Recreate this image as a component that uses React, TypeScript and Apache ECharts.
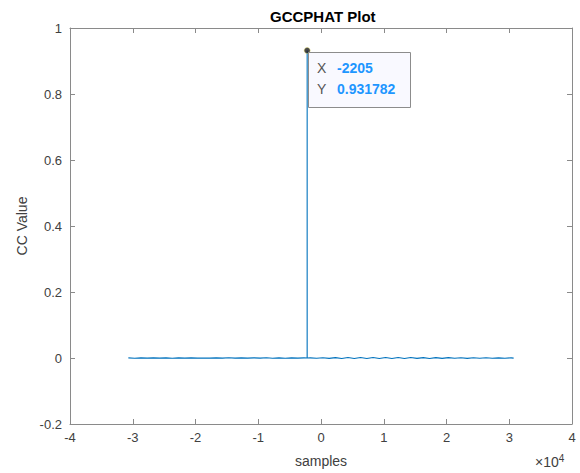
import React, { useEffect, useRef } from "react";
import * as echarts from "echarts";

const title = "GCCPHAT Plot";
const xAxisName = "samples";
const yAxisName = "CC Value";

// lag (samples) and GCC-PHAT value
const lags: number[] = [
  -30700, -29700, -28700, -27700, -26700, -25700, -24700, -23700, -22700, -21700,
  -20700, -19700, -18700, -17700, -16700, -15700, -14700, -13700, -12700, -11700,
  -10700, -9700, -8700, -7700, -6700, -5700, -4700, -3700, -2700,
  -2206, -2205, -2204,
  -1700, -700, 300, 1300, 2300, 3300, 4300, 5300, 6300, 7300, 8300, 9300, 10300,
  11300, 12300, 13300, 14300, 15300, 16300, 17300, 18300, 19300, 20300, 21300,
  22300, 23300, 24300, 25300, 26300, 27300, 28300, 29300, 30300, 30700,
];
const ccValues: number[] = [
  0.0004, -0.0006, 0.0003, -0.0004, 0.0005, -0.0003, 0.0004, -0.0006, 0.0004, -0.0003,
  0.0005, -0.0004, 0.0002, -0.0005, 0.0004, -0.0003, 0.0006, -0.0004, 0.0003, -0.0005,
  0.0005, -0.0003, 0.0007, -0.0006, 0.0003, -0.0007, 0.0005, -0.0004, 0.0004,
  0.0002, 0.931782, -0.0002,
  0.0005, -0.0006, 0.0008, -0.001, 0.0012, -0.0014, 0.0013, -0.0015, 0.0014, -0.0013,
  0.0016, -0.0014, 0.0013, -0.0015, 0.0013, -0.0014, 0.0015, -0.0012, 0.0012, -0.0013,
  0.0011, -0.001, 0.0011, -0.0009, 0.0009, -0.001, 0.0007, -0.0008, 0.0006, -0.0007,
  0.0005, -0.0006, 0.0005, -0.0003,
];

const peakLag = -2205;
const peakValue = 0.931782;

const xMin = -40000;
const xMax = 40000;
const xInterval = 10000;
const yMin = -0.2;
const yMax = 1;
const yInterval = 0.2;

const FONT = "'Liberation Sans', Arial, Helvetica, sans-serif";
const AXIS_COLOR = "#8a8a8a";
const TEXT_COLOR = "#404040";

export default function App() {
  const ref = useRef<HTMLDivElement>(null);

  useEffect(() => {
    if (!ref.current) return;
    const chart = echarts.init(ref.current, null, { renderer: "svg" });

    const tickCommon = {
      show: true,
      inside: true,
      length: 5,
      lineStyle: { color: AXIS_COLOR, width: 1 },
    };
    const lineCommon = {
      show: true,
      onZero: false,
      lineStyle: { color: AXIS_COLOR, width: 1 },
    };

    chart.setOption({
      animation: false,
      backgroundColor: "#ffffff",
      textStyle: { fontFamily: FONT },
      title: {
        text: title,
        left: 265,
        top: 4,
        textStyle: { fontFamily: FONT, fontSize: 15, fontWeight: "bold", color: "#000" },
      },
      grid: { left: 70, right: 8, top: 28, bottom: 49, containLabel: false },
      xAxis: [
        {
          type: "value",
          position: "bottom",
          min: xMin,
          max: xMax,
          interval: xInterval,
          axisLine: lineCommon,
          axisTick: tickCommon,
          splitLine: { show: false },
          axisLabel: {
            margin: 7,
            fontSize: 13,
            color: TEXT_COLOR,
            fontFamily: FONT,
            formatter: (v: number) => String(Math.round(v / 10000)),
          },
          name: xAxisName,
          nameLocation: "middle",
          nameGap: 30,
          nameTextStyle: { fontSize: 14, color: TEXT_COLOR, fontFamily: FONT },
        },
        {
          type: "value",
          position: "top",
          min: xMin,
          max: xMax,
          interval: xInterval,
          axisLine: lineCommon,
          axisTick: tickCommon,
          splitLine: { show: false },
          axisLabel: { show: false },
        },
      ],
      yAxis: [
        {
          type: "value",
          position: "left",
          min: yMin,
          max: yMax,
          interval: yInterval,
          axisLine: lineCommon,
          axisTick: tickCommon,
          splitLine: { show: false },
          axisLabel: {
            margin: 8,
            fontSize: 13,
            color: TEXT_COLOR,
            fontFamily: FONT,
            formatter: (v: number) => String(Math.round(v * 10) / 10),
          },
          name: yAxisName,
          nameLocation: "middle",
          nameGap: 41,
          nameRotate: 90,
          nameTextStyle: { fontSize: 14, color: TEXT_COLOR, fontFamily: FONT },
        },
        {
          type: "value",
          position: "right",
          min: yMin,
          max: yMax,
          interval: yInterval,
          axisLine: lineCommon,
          axisTick: tickCommon,
          splitLine: { show: false },
          axisLabel: { show: false },
        },
      ],
      series: [
        {
          type: "line",
          xAxisIndex: 0,
          yAxisIndex: 0,
          data: lags.map((l, i) => [l, ccValues[i]]),
          showSymbol: false,
          symbol: "none",
          lineStyle: { color: "#0072BD", width: 1.1 },
          silent: true,
        },
        {
          type: "scatter",
          xAxisIndex: 0,
          yAxisIndex: 0,
          data: [[peakLag, peakValue]],
          symbolSize: 6,
          itemStyle: { color: "#1a1a1a", borderColor: "#d8d060", borderWidth: 0.6 },
          silent: true,
          z: 5,
        },
      ],
      graphic: [
        {
          type: "rect",
          left: 308,
          top: 52,
          shape: { width: 102, height: 55 },
          style: { fill: "#f9f9ff", stroke: "#8c8c8c", lineWidth: 1 },
          z: 10,
        },
        {
          type: "text",
          left: 317,
          top: 61,
          style: { text: "X", fontSize: 14, fill: "#555555", fontFamily: FONT },
          z: 11,
        },
        {
          type: "text",
          left: 337,
          top: 61,
          style: { text: String(peakLag), fontSize: 14, fontWeight: "bold", fill: "#1e96ff", fontFamily: FONT },
          z: 11,
        },
        {
          type: "text",
          left: 317,
          top: 82,
          style: { text: "Y", fontSize: 14, fill: "#555555", fontFamily: FONT },
          z: 11,
        },
        {
          type: "text",
          left: 337,
          top: 82,
          style: { text: String(peakValue), fontSize: 14, fontWeight: "bold", fill: "#1e96ff", fontFamily: FONT },
          z: 11,
        },
        {
          type: "text",
          left: 535,
          top: 453,
          style: {
            text: "×10{sup|4}",
            fontSize: 14,
            fill: TEXT_COLOR,
            fontFamily: FONT,
            rich: {
              sup: { fontSize: 10, verticalAlign: "top", padding: [0, 0, 8, 0], fill: TEXT_COLOR, fontFamily: FONT },
            },
          },
        },
      ],
    });

    return () => chart.dispose();
  }, []);

  return (
    <div
      ref={ref}
      style={{ position: "fixed", left: 0, top: 0, width: 580, height: 473 }}
    />
  );
}
